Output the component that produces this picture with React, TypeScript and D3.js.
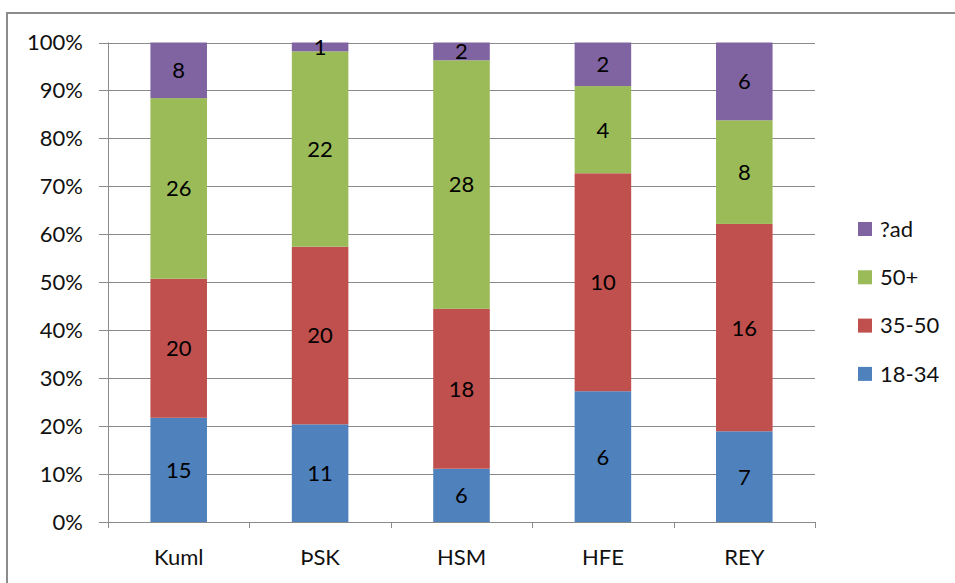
import React from "react";
import * as d3 from "d3";

const categories = ["Kuml", "ÞSK", "HSM", "HFE", "REY"];
const seriesNames = ["18-34", "35-50", "50+", "?ad"];
const s1834 = [15, 11, 6, 6, 7];
const s3550 = [20, 20, 18, 10, 16];
const s50plus = [26, 22, 28, 4, 8];
const sAd = [8, 1, 2, 2, 6];
const colors = ["#4F81BD", "#C0504D", "#9BBB59", "#8064A2"];
const yTicks = [0, 0.1, 0.2, 0.3, 0.4, 0.5, 0.6, 0.7, 0.8, 0.9, 1];

const W = 955;
const H = 583;
const plot = { left: 108, right: 815, top: 42.5, bottom: 522 };
const FONT = "Lato, 'Open Sans', sans-serif";
const FS = 22;

export default function App() {
  const seriesValues = [s1834, s3550, s50plus, sAd];
  const rows = categories.map((c, i) => {
    const row: Record<string, number | string> = { cat: c };
    seriesNames.forEach((s, k) => (row[s] = seriesValues[k][i]));
    return row;
  });
  const stacked = d3
    .stack<any>()
    .keys(seriesNames)
    .offset(d3.stackOffsetExpand)(rows);

  const x = d3
    .scaleBand()
    .domain(categories)
    .range([plot.left, plot.right])
    .paddingInner(0)
    .paddingOuter(0);
  const y = d3.scaleLinear().domain([0, 1]).range([plot.bottom, plot.top]);
  const catW = x.bandwidth();
  const barW = catW * 0.4;

  const grid = "#8a8a8a";
  return (
    <svg
      width={W}
      height={H}
      style={{ position: "absolute", left: 0, top: 0, background: "#fff" }}
      fontFamily={FONT}
    >
      <rect x={7} y={13} width={1000} height={1000} fill="#fff" stroke="#8c8c8c" strokeWidth={2} />
      {/* gridlines + y ticks */}
      {yTicks.map((t) => (
        <g key={t}>
          <line x1={99} x2={plot.right} y1={Math.round(y(t)) + 0.5} y2={Math.round(y(t)) + 0.5} stroke={grid} strokeWidth={1} />
          <text x={83} y={y(t)} dy="0.35em" textAnchor="end" fontSize={FS} fill="#111">
            {d3.format(".0%")(t)}
          </text>
        </g>
      ))}
      {/* bars */}
      {stacked.map((layer, k) => (
        <g key={layer.key}>
          {layer.map((d, i) => {
            const cx = (x(categories[i]) as number) + catW / 2;
            const y0 = y(d[0]);
            const y1 = y(d[1]);
            return (
              <g key={i}>
                <rect x={cx - barW / 2} y={y1} width={barW} height={y0 - y1} fill={colors[k]} />
                <text x={cx} y={(y0 + y1) / 2} dy="0.36em" textAnchor="middle" fontSize={FS} fill="#000">
                  {seriesValues[k][i]}
                </text>
              </g>
            );
          })}
        </g>
      ))}
      {/* axes */}
      <line x1={plot.left + 0.5} x2={plot.left + 0.5} y1={plot.top} y2={plot.bottom} stroke={grid} />
      <line x1={plot.left} x2={plot.right} y1={plot.bottom + 0.5} y2={plot.bottom + 0.5} stroke={grid} />
      {d3.range(categories.length + 1).map((i) => {
        const xx = Math.round(plot.left + i * catW) + 0.5;
        return <line key={i} x1={xx} x2={xx} y1={plot.bottom} y2={plot.bottom + 6} stroke={grid} />;
      })}
      {categories.map((c) => (
        <text key={c} x={(x(c) as number) + catW / 2} y={557} dy="0.35em" textAnchor="middle" fontSize={FS} fill="#111">
          {c}
        </text>
      ))}
      {/* legend */}
      {seriesNames
        .slice()
        .reverse()
        .map((s, j) => {
          const k = seriesNames.length - 1 - j;
          const cy = 229 + j * 48.3;
          return (
            <g key={s}>
              <rect x={858} y={cy - 7} width={14} height={14} fill={colors[k]} />
              <text x={880} y={cy} dy="0.35em" fontSize={FS} fill="#111">
                {s}
              </text>
            </g>
          );
        })}
    </svg>
  );
}
